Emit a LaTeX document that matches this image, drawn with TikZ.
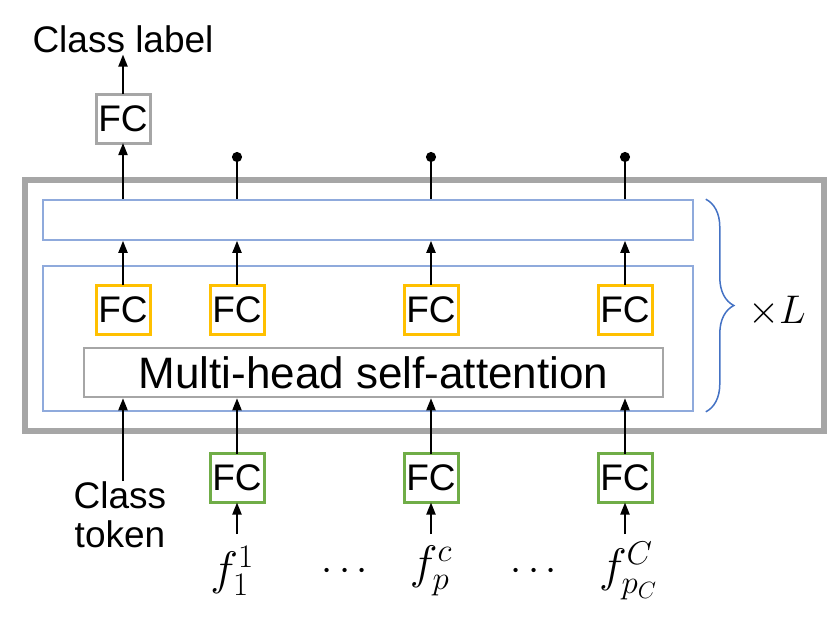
\RequirePackage{fix-cm}
\documentclass[tikz,border=0pt]{standalone}
\usepackage[no-math]{fontspec}
\setmainfont{Liberation Sans}
\usepackage{amsmath,amssymb}
\usepackage{xcolor}
\usetikzlibrary{arrows.meta,positioning,decorations.pathreplacing}

\definecolor{framegray}{HTML}{A6A6A6}
\definecolor{layerblue}{HTML}{8FAADC}
\definecolor{braceblue}{HTML}{4472C4}
\definecolor{fcyellow}{HTML}{FFC000}
\definecolor{fcgreen}{HTML}{70AD47}

\begin{document}
\begin{tikzpicture}[x=1pt, y=-1pt]
        \tikzstyle{fc} = [rectangle, draw, line width=3pt, minimum width=54pt, minimum height=49pt, inner sep=0pt, outer sep=0pt, font=\fontsize{37}{39}\selectfont]
        \tikzstyle{layer} = [rectangle, draw=layerblue, line width=1.6pt, minimum width=650pt, inner sep=0pt]
        \tikzstyle{txt} = [inner sep=2pt, font=\fontsize{37}{39}\selectfont]
        \tikzstyle{sym} = [inner sep=0pt, font=\fontsize{40}{40}\selectfont]
        \tikzstyle{arrow} = [-{Triangle[length=12pt, width=9pt]}, line width=2pt]
        \tikzstyle{dotline} = [-{Circle[length=10pt]}, line width=2pt]

        \useasboundingbox (0,0) rectangle (830,622);

        % encoder layer, repeated L times
        \node (frame) [rectangle, draw=framegray, line width=6pt, minimum width=799pt, minimum height=251pt] at (424.5,305.5) {};
        \node (upper) [layer, minimum height=40pt] at (368,220) {};
        \node (lower) [layer, minimum height=145pt] at (368,338.5) {};
        \node (mhsa) [rectangle, draw=framegray, line width=2.5pt, minimum width=579pt, minimum height=49pt, font=\fontsize{44}{44}\selectfont] at (373.5,372.5) {Multi-head self-attention};

        \node (att1) [fc, draw=fcyellow] at (123,309.5) {FC};
        \node (att2) [fc, draw=fcyellow, right=60pt of att1] {FC};
        \node (att3) [fc, draw=fcyellow, right=140pt of att2] {FC};
        \node (att4) [fc, draw=fcyellow, right=140pt of att3] {FC};

        \draw[braceblue, line width=1.5pt, decorate, decoration={brace, amplitude=28pt}] ([xshift=12pt]upper.north east) -- ([xshift=12pt]lower.south east);
        \node (times) [sym] at (777,311) {$\times L$};

        % inputs
        \node (emb2) [fc, draw=fcgreen] at (237,478) {FC};
        \node (emb3) [fc, draw=fcgreen] at (431,478) {FC};
        \node (emb4) [fc, draw=fcgreen] at (625,478) {FC};
        \node (clstoken) [txt, align=center, anchor=north, inner sep=0pt] at (120,481) {Class\\token};
        \node (feat1) [sym, font=\fontsize{47}{47}\selectfont] at (232,571) {$f_1^1$};
        \node (feat2) [sym, font=\fontsize{47}{47}\selectfont] at (431,571) {$f_p^c$};
        \node (feat3) [sym, font=\fontsize{47}{47}\selectfont] at (628,571) {$f_{p_C}^C$};
        \node (gap1) [sym] at (348,572) {$\cdots$};
        \node (gap2) [sym] at (537,572) {$\cdots$};
        \coordinate (in2) at (237,534);
        \coordinate (in3) at (431,534);
        \coordinate (in4) at (625,534);

        % output
        \node (fcout) [fc, draw=framegray] at (123,118.5) {FC};
        \node (clslabel) [txt, anchor=base] at (123,52) {Class label};
        \coordinate (out2) at (237,152);
        \coordinate (out3) at (431,152);
        \coordinate (out4) at (625,152);

        \draw[arrow] (fcout) -- (clslabel);
        \draw[arrow] (upper.north -| fcout) -- (fcout);
        \draw[dotline] (upper.north -| att2) -- (out2);
        \draw[dotline] (upper.north -| att3) -- (out3);
        \draw[dotline] (upper.north -| att4) -- (out4);

        \draw[arrow] (att1) -- (att1 |- upper.south);
        \draw[arrow] (att2) -- (att2 |- upper.south);
        \draw[arrow] (att3) -- (att3 |- upper.south);
        \draw[arrow] (att4) -- (att4 |- upper.south);

        \draw[arrow] (clstoken.north -| att1) -- (att1 |- mhsa.south);
        \draw[arrow] (emb2) -- (emb2 |- mhsa.south);
        \draw[arrow] (emb3) -- (emb3 |- mhsa.south);
        \draw[arrow] (emb4) -- (emb4 |- mhsa.south);

        \draw[arrow] (in2) -- (emb2);
        \draw[arrow] (in3) -- (emb3);
        \draw[arrow] (in4) -- (emb4);
    \end{tikzpicture}
\end{document}
